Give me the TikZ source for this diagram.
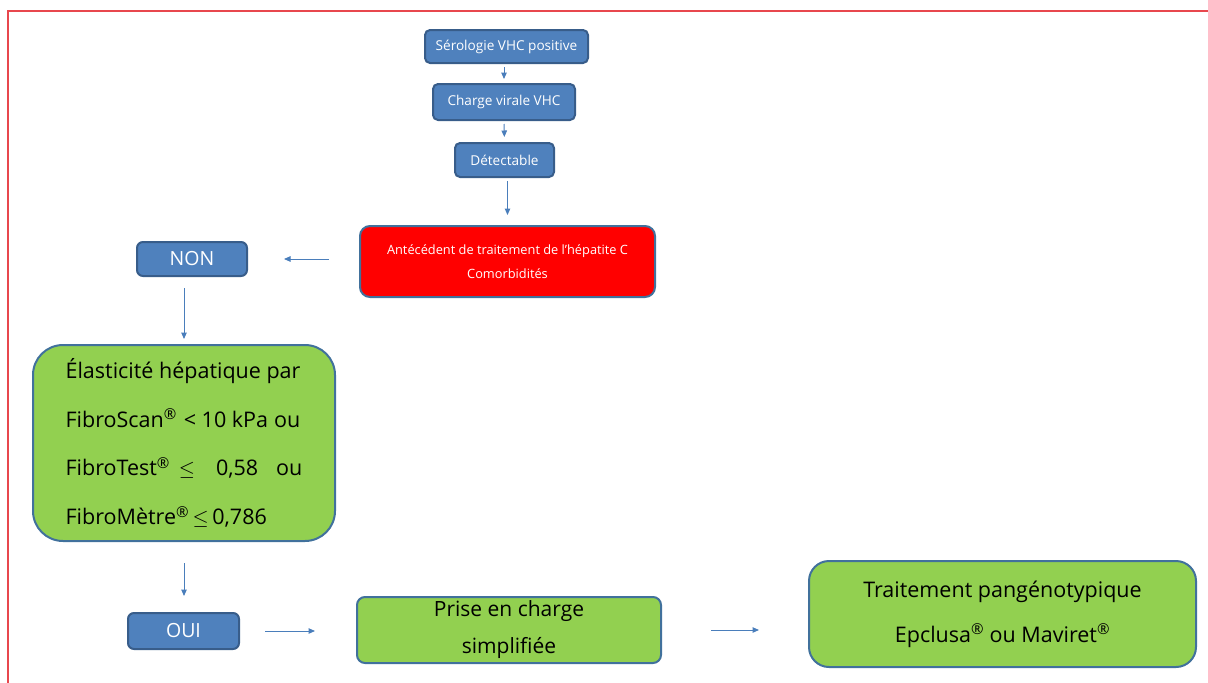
\documentclass[tikz,border=0pt]{standalone}
\usepackage{fontspec}
\setmainfont{Open Sans}
\usetikzlibrary{arrows.meta}
\definecolor{bfill}{HTML}{4F81BD}
\definecolor{bdraw}{HTML}{385D8A}
\definecolor{gfill}{HTML}{92D050}
\definecolor{gdraw}{HTML}{41719C}
\definecolor{rfill}{HTML}{FF0000}
\definecolor{arrc}{HTML}{4A7EBB}
\definecolor{framec}{HTML}{E8474D}
\newcommand{\reg}{\textsuperscript{\textregistered}}
\begin{document}
\begin{tikzpicture}[x=1pt,y=-1pt,
  bluebox/.style={draw=bdraw,fill=bfill,line width=2pt,text=white,rounded corners=5pt,inner sep=0pt,align=center,font=\fontsize{13.6}{16}\selectfont},
  bigblue/.style={bluebox,font=\fontsize{19.5}{22}\selectfont,rounded corners=6pt},
  redbox/.style={draw=gdraw,fill=rfill,line width=2pt,text=white,rounded corners=10pt,inner sep=0pt,align=center,font=\fontsize{12.8}{24}\selectfont},
  greenbox/.style={draw=gdraw,fill=gfill,line width=2pt,text=black,inner sep=0pt},
  arr/.style={draw=arrc,line width=1pt,-{Triangle[length=6.5pt,width=5.5pt]}}
]
\useasboundingbox (0,0) rectangle (1208,683);
\draw[framec,line width=2pt] (1208,11) -- (8,11) -- (8,683);

\node[bluebox,minimum width=163,minimum height=33] (ser) at (506.5,46.5) {Sérologie VHC positive};
\node[bluebox,minimum width=142,minimum height=36] (cha) at (504,102) {Charge virale VHC};
\node[bluebox,minimum width=99,minimum height=34] (det) at (504.5,160) {Détectable};
\node[redbox,minimum width=295,minimum height=71] (red) at (507.5,261.5) {Antécédent de traitement de l’hépatite C\\Comorbidités};
\node[bigblue,minimum width=110,minimum height=34] (non) at (192,259) {NON};
\node[greenbox,rounded corners=30pt,minimum width=302,minimum height=196,align=left,font=\fontsize{21.5}{48.7}\selectfont] (green) at (184,443)
 {Élasticité hépatique par\\
  FibroScan\reg\hspace{7pt}< 10 kPa\hspace{6pt}ou\\
  FibroTest\reg\hspace{9pt}$\leq$\hspace{21pt}0,58\hspace{18pt}ou\\
  FibroMètre\reg\,$\leq$\,0,786};
\node[bigblue,minimum width=111,minimum height=36] (oui) at (183.5,631) {OUI};
\node[greenbox,rounded corners=8pt,minimum width=304,minimum height=66,align=center,font=\fontsize{21}{37}\selectfont] (prise) at (509,630) {Prise en charge\\simplifiée};
\node[greenbox,rounded corners=20pt,minimum width=387,minimum height=106,align=center,font=\fontsize{21.5}{45}\selectfont] (trait) at (1002.5,614) {Traitement pangénotypique\\Epclusa\reg{} ou Maviret\reg};

\draw[arr,shorten <=3pt,shorten >=4pt] (ser.south -| cha) -- (cha.north);
\draw[arr,shorten <=3pt,shorten >=5pt] (cha.south) -- (det.north);
\draw[arr,shorten <=3pt,shorten >=10pt] (det.south -| red) -- (red.north);
\draw[arr,shorten <=30pt,shorten >=36pt] (red.west |- non) -- (non.east);
\draw[arr,shorten <=11pt,shorten >=5pt] (green.north |- non.south) -- (green.north);
\draw[arr,shorten <=21pt,shorten >=16pt] (green.south) -- (green.south |- oui.north);
\draw[arr,shorten <=25pt,shorten >=41pt] (oui.east) -- (oui.east -| prise.west);
\draw[arr,shorten <=49pt,shorten >=49pt] (prise.east) -- (prise.east -| trait.west);
\end{tikzpicture}
\end{document}
